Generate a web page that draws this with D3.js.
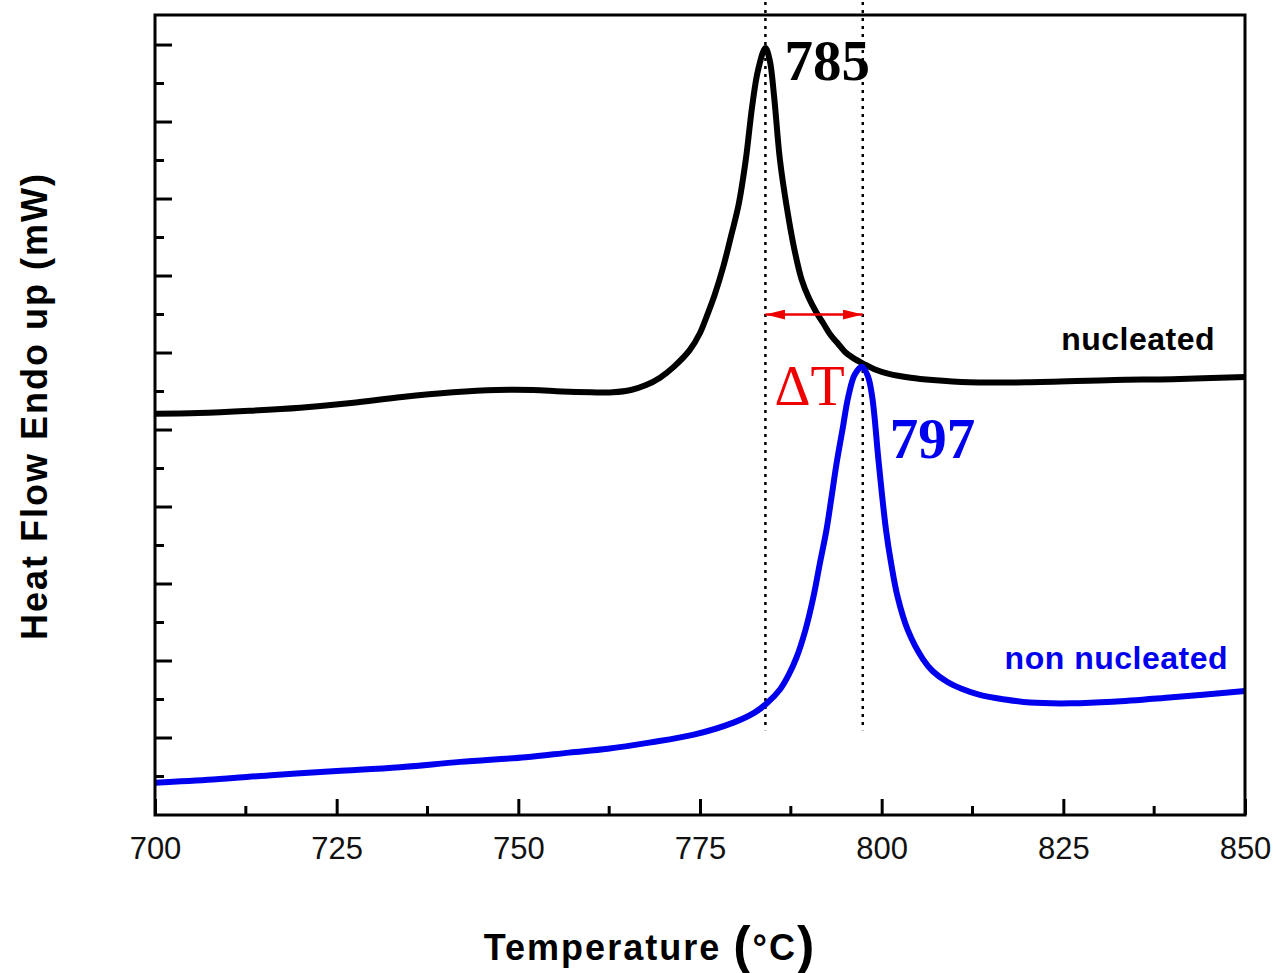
<!DOCTYPE html>
<html>
<head>
<meta charset="utf-8">
<script src="https://cdn.jsdelivr.net/npm/d3@7"></script>
<style>
  body { margin: 0; background: #fff; }
  svg { display: block; }
  text { font-family: "Liberation Sans", Arial, sans-serif; }
</style>
</head>
<body>
<div id="chart"></div>
<script>
// DSC traces (temperature in °C, heat flow in arbitrary mW units)
var nucleatedT = [700, 706, 713, 720, 727, 734, 741, 747, 752, 756, 760, 763, 765.5, 767.5, 769.5, 771.5, 773.6, 775, 775.9, 777, 778.2, 779.3, 780.3, 781.3, 782.2, 783, 784, 784.6, 785.2, 786, 787, 788, 789, 790, 791, 792, 793, 794, 795, 796, 797.5, 799, 801, 804, 807, 812, 820, 832, 840, 850];
var nucleatedHF = [5.21, 5.22, 5.25, 5.29, 5.35, 5.43, 5.49, 5.52, 5.52, 5.50, 5.49, 5.49, 5.52, 5.58, 5.68, 5.83, 6.04, 6.26, 6.47, 6.75, 7.12, 7.53, 7.92, 8.51, 9.22, 9.68, 9.96, 9.80, 9.33, 8.51, 7.86, 7.34, 6.95, 6.71, 6.53, 6.38, 6.23, 6.12, 6.01, 5.94, 5.86, 5.79, 5.73, 5.68, 5.65, 5.62, 5.62, 5.65, 5.66, 5.69];

var nonNucleatedT = [700, 708, 716.5, 725, 733.7, 742, 751, 757, 762.3, 768, 774, 779.6, 782.5, 784.2, 786, 787.2, 788.3, 789.5, 790.6, 791.5, 792.4, 793.1, 793.8, 794.6, 795.4, 796.3, 797.3, 798.1, 798.7, 799.6, 800.6, 801.3, 802.2, 803.6, 805.7, 807, 809, 811, 813.5, 817, 820.4, 826, 831.8, 840, 850];
var nonNucleatedHF = [0.42, 0.46, 0.52, 0.57, 0.62, 0.69, 0.75, 0.81, 0.86, 0.94, 1.04, 1.20, 1.33, 1.45, 1.63, 1.82, 2.05, 2.40, 2.83, 3.27, 3.70, 4.13, 4.57, 5.00, 5.43, 5.72, 5.82, 5.70, 5.43, 4.57, 3.70, 3.27, 2.83, 2.40, 2.02, 1.87, 1.73, 1.64, 1.56, 1.50, 1.46, 1.45, 1.47, 1.53, 1.61];

var xTicks = [700, 725, 750, 775, 800, 825, 850];
var peakTemps = [784.0, 797.4];
var peakLabels = ["785", "797"];

var width = 1278, height = 973;
var margin = {left: 155, right: 33, top: 15, bottom: 158};

var svg = d3.select("#chart").append("svg")
    .attr("width", width)
    .attr("height", height);

var x = d3.scaleLinear()
    .domain([700, 850])
    .range([margin.left, width - margin.right]);

var y = d3.scaleLinear()
    .domain([0, 10.39])
    .range([height - margin.bottom, margin.top]);

var line = d3.line()
    .x(function(d) { return x(d[0]); })
    .y(function(d) { return y(d[1]); })
    .curve(d3.curveCatmullRom.alpha(0.5));

var nucleated = d3.zip(nucleatedT, nucleatedHF);
var nonNucleated = d3.zip(nonNucleatedT, nonNucleatedHF);

// dotted markers at the two peaks
svg.selectAll("line.peak")
    .data(peakTemps)
    .enter().append("line")
    .attr("class", "peak")
    .attr("x1", function(d) { return x(d); })
    .attr("x2", function(d) { return x(d); })
    .attr("y1", 2)
    .attr("y2", y(1.1))
    .attr("stroke", "#000")
    .attr("stroke-width", 2.5)
    .attr("stroke-dasharray", "3,5");

// curves
svg.append("path")
    .datum(nucleated)
    .attr("d", line)
    .attr("fill", "none")
    .attr("stroke", "#000")
    .attr("stroke-width", 6);

svg.append("path")
    .datum(nonNucleated)
    .attr("d", line)
    .attr("fill", "none")
    .attr("stroke", "#0000ee")
    .attr("stroke-width", 6);

// frame
svg.append("rect")
    .attr("x", x(700))
    .attr("y", y(10.39))
    .attr("width", x(850) - x(700))
    .attr("height", y(0) - y(10.39))
    .attr("fill", "none")
    .attr("stroke", "#000")
    .attr("stroke-width", 3);

// x axis, ticks pointing inward
var xAxis = d3.axisBottom(x)
    .tickValues(xTicks)
    .tickSize(-16)
    .tickPadding(22)
    .tickFormat(d3.format("d"));

var gx = svg.append("g")
    .attr("transform", "translate(0," + y(0) + ")")
    .call(xAxis);
gx.select(".domain").remove();
gx.selectAll(".tick line").attr("stroke-width", 3);
gx.selectAll(".tick text")
    .attr("font-size", 31)
    .attr("font-family", "Liberation Sans, Arial, sans-serif")
    .attr("fill", "#111");

var xMinor = d3.range(712.5, 850, 25);
svg.append("g").selectAll("line")
    .data(xMinor)
    .enter().append("line")
    .attr("x1", function(d) { return x(d); })
    .attr("x2", function(d) { return x(d); })
    .attr("y1", y(0))
    .attr("y2", y(0) - 9)
    .attr("stroke", "#000")
    .attr("stroke-width", 3);

// y axis ticks only, no labels
var yMajor = d3.range(1, 11, 1);
var yMinor = d3.range(0.5, 10.4, 1);
svg.append("g").selectAll("line")
    .data(yMajor)
    .enter().append("line")
    .attr("x1", x(700))
    .attr("x2", x(700) + 17)
    .attr("y1", function(d) { return y(d); })
    .attr("y2", function(d) { return y(d); })
    .attr("stroke", "#000")
    .attr("stroke-width", 3);
svg.append("g").selectAll("line")
    .data(yMinor)
    .enter().append("line")
    .attr("x1", x(700))
    .attr("x2", x(700) + 9)
    .attr("y1", function(d) { return y(d); })
    .attr("y2", function(d) { return y(d); })
    .attr("stroke", "#000")
    .attr("stroke-width", 3);

// axis titles
var xTitle = svg.append("text")
    .attr("x", 650)
    .attr("y", 960)
    .attr("text-anchor", "middle")
    .attr("font-weight", "bold")
    .attr("font-size", 36)
    .attr("letter-spacing", 2)
    .attr("fill", "#000");
xTitle.append("tspan").text("Temperature ");
xTitle.append("tspan").attr("font-size", 52).attr("dy", 3).text("(");
xTitle.append("tspan").attr("dy", -3).text("°C");
xTitle.append("tspan").attr("font-size", 52).attr("dy", 3).text(")");

svg.append("text")
    .attr("transform", "translate(47," + 406 + ") rotate(-90)")
    .attr("text-anchor", "middle")
    .attr("font-weight", "bold")
    .attr("font-size", 36)
    .attr("letter-spacing", 2)
    .attr("fill", "#000")
    .text("Heat Flow Endo up (mW)");

// series labels
svg.append("text")
    .attr("x", 1215)
    .attr("y", 350)
    .attr("text-anchor", "end")
    .attr("font-weight", "bold")
    .attr("font-size", 32)
    .attr("letter-spacing", 0.5)
    .attr("fill", "#000")
    .text("nucleated");

svg.append("text")
    .attr("x", 1228)
    .attr("y", 669)
    .attr("text-anchor", "end")
    .attr("font-weight", "bold")
    .attr("font-size", 32)
    .attr("letter-spacing", 0.5)
    .attr("fill", "#0000ee")
    .text("non nucleated");

// peak temperature labels
var peakColors = ["#000", "#0000ee"];
var peakLabelY = [80, 458];
svg.selectAll("text.peaklabel")
    .data(peakLabels)
    .enter().append("text")
    .attr("class", "peaklabel")
    .attr("x", function(d, i) { return x(peakTemps[i]) + (i === 0 ? 19 : 27); })
    .attr("y", function(d, i) { return peakLabelY[i]; })
    .style("font-family", "'Liberation Serif', 'Times New Roman', serif")
    .attr("font-weight", "bold")
    .attr("font-size", 57)
    .attr("fill", function(d, i) { return peakColors[i]; })
    .text(function(d) { return d; });

// delta T double arrow
var defs = svg.append("defs");
["start", "end"].forEach(function(k) {
    defs.append("marker")
        .attr("id", "arrow-" + k)
        .attr("viewBox", "0 0 20 10")
        .attr("refX", k === "end" ? 20 : 0)
        .attr("refY", 5)
        .attr("markerWidth", 20)
        .attr("markerHeight", 10)
        .attr("markerUnits", "userSpaceOnUse")
        .attr("orient", "auto")
        .append("path")
        .attr("d", k === "end" ? "M0,0 L20,5 L0,10 Z" : "M20,0 L0,5 L20,10 Z")
        .attr("fill", "#ee0000");
});

svg.append("line")
    .attr("x1", x(peakTemps[0]))
    .attr("x2", x(peakTemps[1]))
    .attr("y1", y(6.5))
    .attr("y2", y(6.5))
    .attr("stroke", "#ee0000")
    .attr("stroke-width", 2.5)
    .attr("marker-start", "url(#arrow-start)")
    .attr("marker-end", "url(#arrow-end)");

svg.append("text")
    .attr("x", x(peakTemps[0]) + 9)
    .attr("y", 405)
    .style("font-family", "'Liberation Serif', 'Times New Roman', serif")
    .attr("font-size", 56)
    .attr("fill", "#ee0000")
    .text("ΔT");
</script>
</body>
</html>
